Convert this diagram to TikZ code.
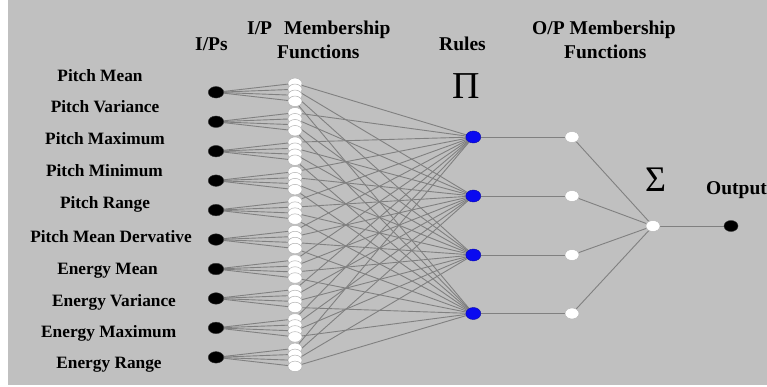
\documentclass[tikz,border=0pt]{standalone}
\usepackage{fontspec}
\setmainfont{Liberation Serif}
\usetikzlibrary{shapes.geometric}
\pgfdeclarelayer{bg}
\pgfsetlayers{bg,main}
\definecolor{bgray}{HTML}{C0C0C0}
\definecolor{lgray}{HTML}{808080}
\definecolor{nblue}{HTML}{0A0AF0}
\begin{document}
\begin{tikzpicture}[x=1pt,y=-1pt,
  inp/.style={ellipse,fill=black,draw=black!80,minimum width=15.5pt,minimum height=11.5pt,inner sep=0pt},
  mf/.style={ellipse,fill=white,draw=black!30,line width=0.5pt,minimum width=14pt,minimum height=10.5pt,inner sep=0pt},
  rulenode/.style={ellipse,fill=nblue,draw=nblue!70!black,minimum width=15pt,minimum height=12pt,inner sep=0pt},
  omf/.style={ellipse,fill=white,draw=black!30,minimum width=14pt,minimum height=11pt,inner sep=0pt},
  link/.style={draw=lgray,line width=0.9pt},
  lbl/.style={font=\fontsize{17.3}{17.3}\selectfont\bfseries,anchor=base,inner sep=0pt},
  hdr/.style={font=\fontsize{19.5}{19.5}\selectfont\bfseries,anchor=base west,inner sep=0pt},
  sym/.style={anchor=base,inner sep=0pt}]
\useasboundingbox (0,0) rectangle (767,387);
\begin{pgfonlayer}{bg}
\fill[bgray] (8,0) rectangle (767,385);
\end{pgfonlayer}
% inputs
\foreach \i in {1,...,10} {
  \pgfmathsetmacro\yy{92.3+29.45*(\i-1)}
  \node[inp] (in\i) at (216,\yy) {};
}
% input membership functions
\foreach \i in {1,...,10} {
  \foreach \j in {1,...,4} {
    \pgfmathsetmacro\yy{92.3+29.45*(\i-1)+6*(\j-2.5)}
    \node[mf] (mf\i-\j) at (295,\yy) {};
  }
}
% rules and output membership functions
\foreach \j/\yy in {1/137,2/196,3/255,4/313.5} {
  \node[rulenode] (r\j) at (473.3,\yy) {};
  \node[omf] (o\j) at (572,\yy) {};
}
\node[omf] (sum) at (653,226) {};
\node[inp,minimum width=14pt,minimum height=11pt] (out) at (731,226) {};
% connectors
\begin{pgfonlayer}{bg}
\foreach \i in {1,...,10} {
  \foreach \j in {1,...,4} {
    \draw[link] (in\i) -- (mf\i-\j);
    \draw[link] (mf\i-\j) -- (r\j);
  }
}
\foreach \j in {1,...,4} {
  \draw[link] (r\j) -- (o\j);
  \draw[link] (o\j) -- (sum);
}
\draw[link] (sum) -- (out);
\end{pgfonlayer}
% input labels
\node[lbl] (l1) at (100,81.7) {Pitch Mean};
\node[lbl] (l2) at (105,113) {Pitch Variance};
\node[lbl] (l3) at (105,145) {Pitch Maximum};
\node[lbl] (l4) at (104.5,176.5) {Pitch Minimum};
\node[lbl] (l5) at (105,208.5) {Pitch Range};
\node[lbl] (l6) at (111,242.7) {Pitch Mean Dervative};
\node[lbl] (l7) at (107.5,274) {Energy Mean};
\node[lbl] (l8) at (114,306) {Energy Variance};
\node[lbl] (l9) at (108.7,337) {Energy Maximum};
\node[lbl] (l10) at (109,368) {Energy Range};
% headers
\node[hdr] (h1) at (195,50.7) {I/Ps};
\node[hdr] (h2) at (247,35) {I/P};
\node[hdr] (h3) at (284,35) {Membership};
\node[hdr] (h4) at (277,58.3) {Functions};
\node[hdr] (h5) at (439,50.7) {Rules};
\node[hdr] (h6) at (532,35) {O/P Membership};
\node[hdr] (h7) at (564,58.3) {Functions};
\node[hdr] (h8) at (706,195) {Output};
\node[sym,font=\fontsize{38}{38}\selectfont] (pi) at (466,98.3) {Π};
\node[sym,font=\fontsize{36}{36}\selectfont] (sig) at (655.5,191.7) {Σ};
\end{tikzpicture}
\end{document}
